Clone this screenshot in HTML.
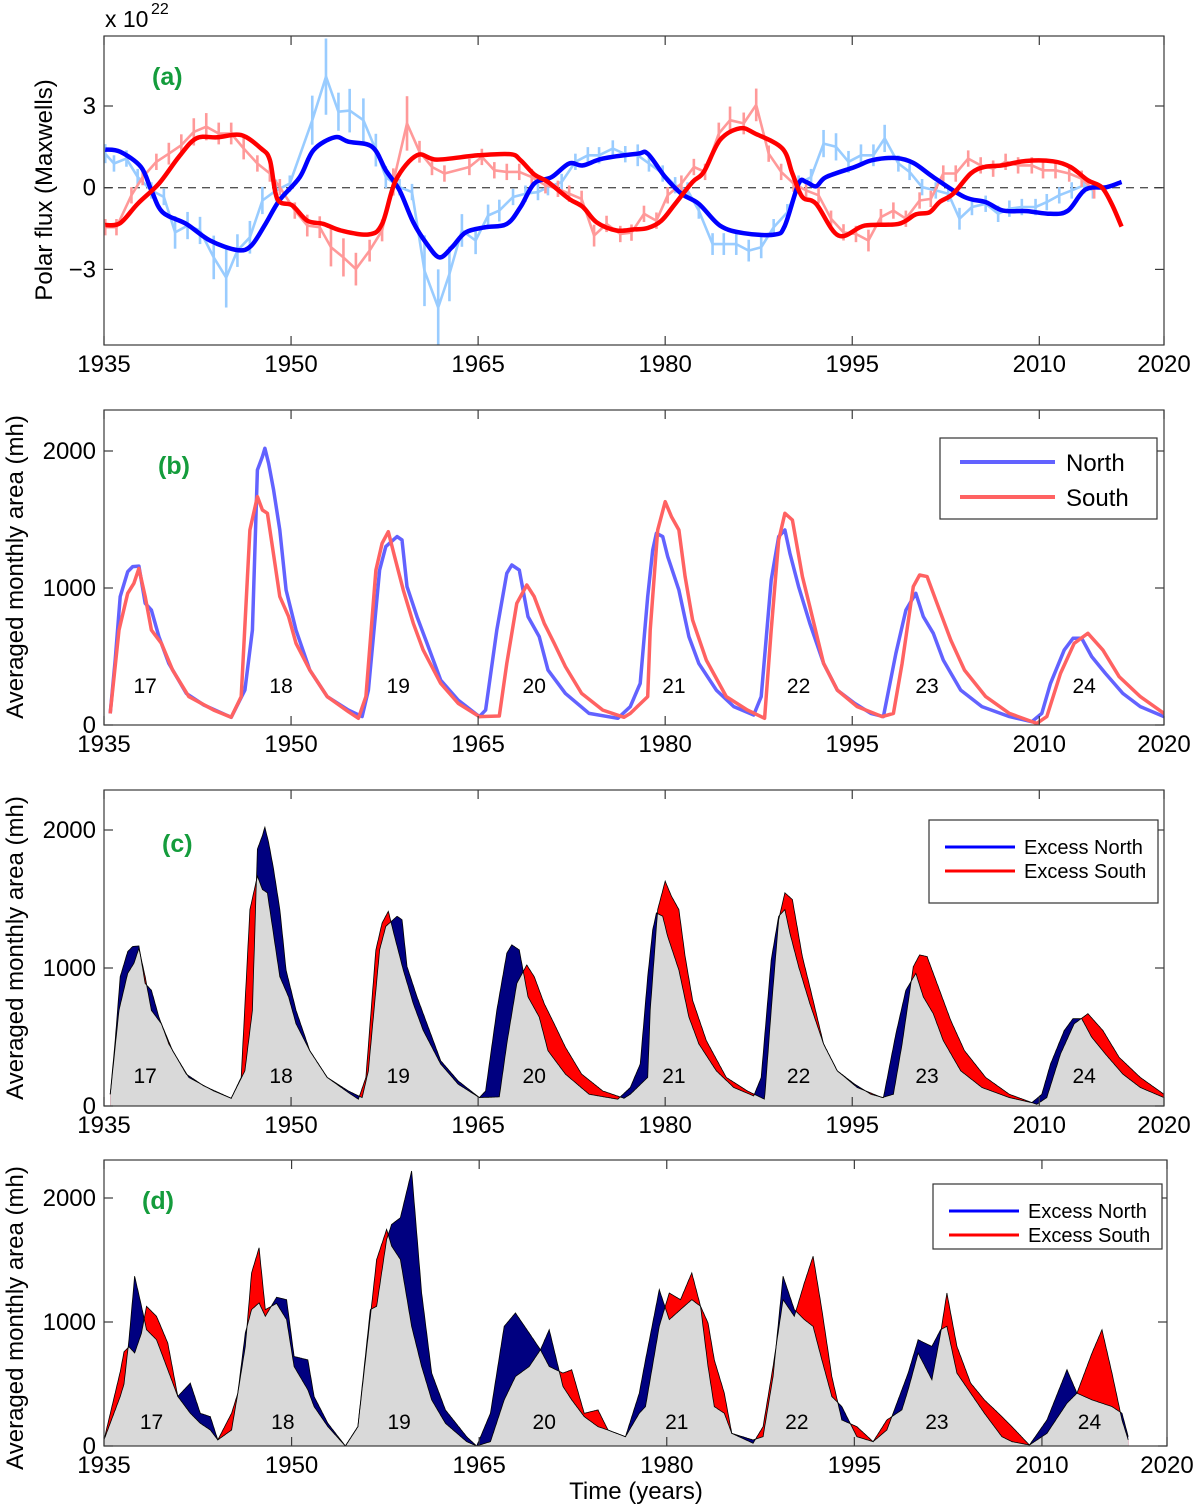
<!DOCTYPE html>
<html><head><meta charset="utf-8">
<style>
html,body{margin:0;padding:0;background:#fff;}
svg{display:block;font-family:"Liberation Sans",Arial,sans-serif;}
</style></head>
<body>
<svg id="fig" width="1200" height="1504" viewBox="0 0 1200 1504" xmlns="http://www.w3.org/2000/svg">
<defs>
<clipPath id="clipA"><rect x="104" y="36" width="1060" height="309"/></clipPath>
<clipPath id="clipB"><rect x="104" y="410" width="1060" height="315"/></clipPath>
<clipPath id="clipC"><rect x="104" y="790" width="1060" height="316"/></clipPath>
<clipPath id="clipD"><rect x="104" y="1160" width="1063" height="286"/></clipPath>
</defs>
<g id="layer"></g>
</svg>
<script>
// ---------- Panel (a) data: polar flux (x 10^22 Mx) ----------
const aBlueYears=[1935.1,1936.3,1937.97,1938.8,1939.7,1941.6,1943.5,1945.7,1946.8,1947.95,1949.06,1950.7,1951.8,1953.5,1954.6,1956.5,1957.6,1958.7,1959.8,1960.9,1961.9,1962.9,1964.0,1965.6,1967.3,1968.4,1969.5,1970.9,1972.3,1973.4,1975.0,1977.8,1978.6,1980.0,1981.3,1982.7,1984.4,1986.3,1988.8,1989.6,1990.7,1991.3,1992.1,1992.9,1995.2,1996.6,1998.5,1999.9,2001.5,2004.0,2005.7,2007.1,2009.0,2010.9,2012.3,2013.7,2015.4,2016.6];
const aBlueVals=[1.40,1.32,0.76,-0.1,-0.9,-1.33,-1.94,-2.29,-2.13,-1.33,-0.47,0.39,1.38,1.85,1.69,1.5,0.64,-0.1,-1.27,-2.07,-2.56,-2.19,-1.64,-1.45,-1.33,-0.71,0.15,0.39,0.89,0.82,1.07,1.25,1.25,0.39,-0.22,-0.59,-1.39,-1.67,-1.72,-1.39,0.15,0.21,0.05,0.39,0.76,1.01,1.09,0.91,0.39,-0.34,-0.53,-0.84,-0.86,-0.96,-0.84,-0.07,0.02,0.21];
const aRedYears=[1935.1,1936.3,1937.7,1939.4,1941.0,1942.4,1944.1,1946.0,1947.6,1948.3,1948.9,1950.1,1951.3,1952.6,1954.0,1956.2,1957.3,1958.4,1960.1,1961.7,1965.0,1967.6,1968.4,1969.5,1970.6,1972.3,1973.4,1974.5,1976.1,1977.5,1978.6,1979.7,1980.8,1982.2,1983.1,1984.4,1986.0,1987.2,1989.4,1990.2,1991.0,1992.1,1993.9,1996.0,1998.7,2000.1,2001.2,2002.0,2003.1,2004.5,2005.6,2007.0,2008.9,2011.1,2012.5,2013.9,2015.0,2015.8,2016.6];
const aRedVals=[-1.37,-1.30,-0.59,0.15,1.13,1.81,1.85,1.93,1.44,1.01,-0.41,-0.65,-1.21,-1.33,-1.57,-1.72,-1.33,0.27,1.19,1.03,1.19,1.23,1.01,0.49,0.21,-0.41,-0.71,-1.27,-1.57,-1.53,-1.48,-1.21,-0.59,0.21,0.58,1.75,2.18,1.99,1.44,0.52,-0.34,-0.59,-1.76,-1.39,-1.33,-0.98,-0.90,-0.53,-0.22,0.52,0.76,0.82,0.98,0.97,0.76,0.27,0.02,-0.59,-1.43];
const aLBYears=[1935.1,1935.8,1936.8,1937.7,1938.8,1939.8,1940.7,1941.7,1942.7,1943.8,1944.8,1945.7,1946.7,1947.7,1948.8,1949.9,1951.7,1952.8,1953.8,1954.7,1955.8,1956.8,1957.6,1958.7,1959.7,1960.7,1961.8,1962.7,1963.7,1964.8,1965.8,1966.7,1967.8,1968.8,1969.8,1970.6,1971.7,1972.8,1973.8,1974.7,1975.8,1976.8,1977.8,1978.7,1979.8,1980.8,1981.8,1982.7,1983.8,1984.7,1985.7,1986.7,1987.7,1988.7,1989.8,1990.7,1991.7,1992.7,1993.7,1994.7,1995.7,1996.7,1997.6,1998.7,1999.6,2000.6,2001.7,2002.7,2003.6,2004.6,2005.7,2006.7,2007.6,2008.6,2009.7,2010.6,2011.6,2012.6,2013.6,2014.3];
const aLBVals=[1.25,0.89,1.07,0.39,-0.1,-0.34,-1.64,-1.39,-1.57,-2.56,-3.3,-2.31,-1.82,-0.47,-0.1,0.15,2.48,4.08,2.79,2.83,2.48,1.38,0.39,0.02,-0.16,-3.05,-4.4,-3.17,-1.57,-1.94,-1.02,-0.84,-0.34,-0.22,-0.16,0.02,0.21,0.95,1.19,1.19,1.44,1.23,1.19,0.89,0.52,0.09,-0.1,-0.84,-2.07,-2.07,-2.07,-2.31,-2.19,-1.45,-0.9,0.15,0.39,1.62,1.5,0.95,1.19,1.19,1.81,0.89,0.58,0.02,-0.1,-0.22,-1.14,-0.71,-0.59,-0.96,-0.77,-0.71,-0.71,-0.53,-0.28,-0.1,0.09,-0.1];
const aLBErr=[.35,.3,.3,.3,.3,.3,.6,.5,.5,.8,1.1,.6,.6,.5,.4,.3,.9,1.4,.7,.8,.8,.6,.4,.3,.3,1.3,1.4,1.0,.6,.5,.4,.4,.3,.3,.3,.3,.3,.3,.3,.3,.3,.3,.4,.3,.3,.3,.3,.3,.4,.4,.4,.4,.4,.3,.3,.3,.3,.5,.5,.4,.4,.4,.5,.3,.3,.3,.3,.3,.4,.3,.3,.3,.3,.3,.3,.3,.3,.3,.3,.3];
const aLRYears=[1935.1,1936.0,1937.2,1938.1,1939.2,1940.2,1941.2,1942.2,1943.2,1944.2,1945.2,1946.2,1947.3,1948.3,1949.1,1950.3,1951.3,1952.3,1953.2,1954.2,1955.2,1956.3,1957.3,1958.2,1959.3,1960.3,1961.3,1962.3,1964.3,1965.3,1966.3,1967.3,1968.3,1969.3,1970.4,1971.4,1972.3,1973.3,1974.3,1975.3,1976.4,1977.3,1978.3,1979.3,1980.2,1981.3,1982.3,1983.2,1984.3,1985.2,1986.3,1987.3,1988.3,1989.3,1990.3,1991.3,1992.3,1993.3,1994.3,1995.3,1996.3,1997.3,1998.3,1999.3,2000.4,2001.3,2002.3,2003.3,2004.3,2005.3,2006.3,2007.3,2008.3,2009.4,2010.3,2011.3,2012.4,2013.4,2014.4];
const aLRVals=[-1.45,-1.45,-0.28,0.39,0.95,1.25,1.56,2.05,2.24,1.99,1.99,1.44,0.89,0.52,0.02,-0.84,-1.39,-1.45,-2.19,-2.56,-2.99,-2.31,-1.57,0.21,2.36,1.32,0.76,0.52,0.76,1.13,0.64,0.58,0.58,0.39,0.09,-0.04,-0.22,-0.41,-1.76,-1.33,-1.7,-1.65,-0.96,-1.21,-0.28,0.15,0.76,0.58,1.99,2.48,2.36,3.04,1.25,0.58,0.15,-0.1,-0.28,-1.14,-1.64,-1.7,-1.94,-1.08,-0.84,-1.14,-0.47,-0.41,0.52,0.52,1.07,0.82,0.7,0.95,0.82,0.82,0.64,0.64,0.52,0.33,-0.1];
const aLRErr=[.3,.3,.3,.3,.3,.4,.4,.5,.5,.4,.4,.4,.3,.3,.3,.3,.4,.4,.7,.7,.6,.4,.4,.5,1.0,.4,.3,.3,.3,.3,.3,.3,.3,.3,.3,.3,.3,.3,.4,.3,.3,.3,.3,.3,.3,.3,.3,.3,.4,.5,.4,.6,.3,.3,.3,.3,.3,.3,.3,.3,.4,.3,.3,.3,.3,.3,.3,.3,.3,.3,.3,.3,.3,.3,.3,.3,.3,.3,.3];
const aYTicks=[-3,0,3];
const xTickYears=[1935,1950,1965,1980,1995,2010,2020];

// ---------- Panels (b)/(c) data: monthly area (mh) ----------
const bNorthYears=[1935.5,1935.9,1936.3,1936.9,1937.3,1937.8,1938.3,1938.8,1939.4,1940.2,1941.6,1943.0,1945.2,1946.3,1946.9,1947.3,1947.7,1947.9,1948.2,1948.6,1949.1,1949.6,1950.4,1951.5,1952.9,1954.6,1955.7,1956.2,1957.1,1957.6,1958.5,1958.9,1959.3,1960.1,1960.9,1962.0,1963.4,1965.1,1965.6,1966.5,1967.3,1967.7,1968.3,1969.0,1969.9,1970.6,1972.0,1973.9,1976.2,1977.2,1978.0,1978.6,1979.0,1979.3,1979.8,1980.2,1981.1,1981.9,1982.7,1984.1,1985.5,1987.1,1987.7,1988.5,1989.1,1989.6,1990.0,1990.7,1991.6,1992.7,1993.8,1995.2,1996.5,1997.5,1998.5,1999.3,2000.1,2000.7,2001.5,2002.3,2003.7,2005.4,2007.6,2009.4,2010.2,2010.9,2012.0,2012.7,2013.4,2014.2,2015.3,2016.7,2018.1,2020.0];
const bNorthVals=[85,475,937,1119,1156,1160,888,839,645,450,231,146,56,255,693,1861,1959,2020,1910,1715,1423,985,693,401,207,109,61,255,1131,1302,1375,1350,1010,791,596,328,182,61,109,693,1107,1168,1131,791,645,401,231,85,49,134,304,937,1277,1399,1375,1229,985,645,450,255,134,73,207,1058,1375,1423,1253,1010,742,450,255,158,85,61,523,839,961,791,669,474,255,134,61,24,85,304,547,633,633,499,377,231,134,61];
const bSouthYears=[1935.5,1936.2,1936.9,1937.4,1937.8,1938.3,1938.8,1939.6,1940.5,1941.8,1943.8,1945.2,1946.0,1946.7,1947.3,1947.7,1948.1,1948.5,1949.1,1949.8,1950.4,1951.5,1952.9,1954.6,1955.4,1956.0,1956.8,1957.3,1957.8,1958.3,1959.0,1959.8,1960.6,1962.0,1963.4,1965.1,1966.7,1967.3,1968.1,1968.9,1969.5,1970.3,1971.1,1972.0,1973.3,1975.0,1976.7,1977.2,1978.6,1978.8,1979.4,1980.0,1980.5,1981.1,1981.6,1982.2,1983.3,1984.9,1986.6,1987.97,1988.5,1989.1,1989.6,1990.2,1991.0,1991.6,1992.7,1993.8,1995.4,1997.4,1998.3,1999.0,1999.9,2000.4,2001.0,2001.8,2002.9,2004.0,2005.7,2007.6,2009.8,2010.6,2011.7,2012.8,2013.9,2015.1,2016.4,2018.1,2020.0];
const bSouthVals=[85,693,961,1034,1143,937,693,596,401,207,109,56,207,1423,1667,1569,1545,1302,937,791,596,401,207,97,49,207,1131,1326,1411,1229,985,742,547,304,158,61,66,450,888,1022,937,742,596,426,231,109,56,85,207,693,1423,1630,1521,1423,1083,766,474,207,109,49,693,1350,1545,1496,1083,864,450,255,134,61,85,450,1010,1095,1083,888,620,401,207,85,12,61,377,596,669,547,353,207,85];
const bYTicks=[0,1000,2000];
const bCycleLabels=["17","18","19","20","21","22","23","24"];
const bCycleYears=[1938.3,1949.2,1958.6,1969.5,1980.7,1990.7,2001.0,2013.6];

// ---------- Panel (d) data ----------
const dNorthYears=[1935.0,1936.3,1936.6,1937.0,1937.45,1938.0,1938.4,1939.2,1940.1,1940.9,1941.9,1942.7,1943.5,1944.1,1945.2,1945.7,1946.3,1946.8,1947.4,1947.9,1948.8,1949.6,1950.2,1951.3,1951.8,1952.9,1954.3,1955.3,1956.3,1956.8,1957.6,1958.0,1958.7,1959.6,1960.4,1961.2,1962.3,1964.0,1964.8,1965.9,1967.0,1967.9,1969.0,1969.9,1970.6,1971.7,1972.4,1973.4,1974.5,1975.3,1976.7,1977.8,1978.3,1979.4,1980.2,1981.1,1982.0,1982.7,1983.3,1983.8,1984.6,1985.2,1986.9,1987.7,1988.5,1989.3,1990.2,1991.0,1991.7,1992.4,1993.2,1994.0,1995.2,1996.5,1997.6,1998.8,1999.3,2000.1,2001.2,2001.9,2002.4,2003.2,2004.3,2005.4,2006.8,2007.6,2009.0,2010.4,2012.0,2012.8,2014.0,2014.8,2015.6,2016.4,2016.9];
const dNorthVals=[50,400,500,860,1369,1127,938,857,615,400,507,264,237,49,129,426,911,1100,1154,1046,1200,1180,722,695,399,183,0,156,1100,1127,1666,1787,1841,2218,1234,588,291,75,0,264,965,1073,911,776,938,480,372,237,156,129,75,426,695,1261,1019,1100,1180,1127,641,318,264,102,49,75,560,1369,1100,1019,965,695,399,318,75,35,129,453,588,857,803,938,965,588,426,264,75,35,8,210,615,426,372,345,318,264,75];
const dSouthYears=[1935.0,1936.3,1936.6,1937.0,1937.45,1938.0,1938.4,1939.2,1940.1,1940.9,1941.9,1942.7,1943.5,1944.1,1945.2,1945.7,1946.3,1946.8,1947.4,1947.9,1948.8,1949.6,1950.2,1951.3,1951.8,1952.9,1954.3,1955.3,1956.3,1956.8,1957.6,1958.0,1958.7,1959.6,1960.4,1961.2,1962.3,1964.0,1964.8,1965.9,1967.0,1967.9,1969.0,1969.9,1970.6,1971.7,1972.4,1973.4,1974.5,1975.3,1976.7,1977.8,1978.3,1979.4,1980.2,1981.1,1982.0,1982.7,1983.3,1983.8,1984.6,1985.2,1986.9,1987.7,1988.5,1989.3,1990.2,1991.0,1991.7,1992.4,1993.2,1994.0,1995.2,1996.5,1997.6,1998.8,1999.3,2000.1,2001.2,2001.9,2002.4,2003.2,2004.3,2005.4,2006.8,2007.6,2009.0,2010.4,2012.0,2012.8,2014.0,2014.8,2015.6,2016.4,2016.9];
const dSouthVals=[50,600,760,800,750,911,1127,1046,830,400,264,183,129,49,264,426,803,1396,1598,1100,1150,1019,641,453,318,156,0,156,1046,1504,1747,1612,1504,965,641,372,183,35,0,35,372,560,641,776,641,588,615,264,291,129,75,264,318,965,1234,1180,1396,1127,992,695,426,102,22,156,641,1180,1046,1315,1531,1100,560,210,156,35,210,291,453,749,534,911,1234,803,507,372,237,156,8,102,345,426,749,938,588,210,49];
const dCycleYears=[1938.8,1949.3,1958.6,1970.2,1980.8,1990.4,2001.6,2013.8];

const NS="http://www.w3.org/2000/svg";
const layer=document.getElementById('layer');
function el(tag,attrs,parent){const e=document.createElementNS(NS,tag);for(const k in attrs)e.setAttribute(k,attrs[k]);(parent||layer).appendChild(e);return e;}
function txt(s,attrs,parent){const t=el('text',attrs,parent);t.textContent=s;return t;}
function mkX(x0,x1){return y=>x0+(y-1935)/(2020-1935)*(x1-x0);}
function mkY(v0,py0,v1,py1){return v=>py0+(v-v0)/(v1-v0)*(py1-py0);}
function pairs(xs,vs){const n=Math.min(xs.length,vs.length);const r=[];for(let i=0;i<n;i++)r.push([xs[i],vs[i]]);return r;}
function linePath(pts){return pts.map((p,i)=>(i?'L':'M')+p[0].toFixed(1)+','+p[1].toFixed(1)).join('');}
function smoothPath(pts){
  let d='M'+pts[0][0].toFixed(1)+','+pts[0][1].toFixed(1);
  for(let i=0;i<pts.length-1;i++){
    const p0=pts[Math.max(0,i-1)],p1=pts[i],p2=pts[i+1],p3=pts[Math.min(pts.length-1,i+2)];
    const c1=[p1[0]+(p2[0]-p0[0])/6,p1[1]+(p2[1]-p0[1])/6];
    const c2=[p2[0]-(p3[0]-p1[0])/6,p2[1]-(p3[1]-p1[1])/6];
    d+='C'+c1[0].toFixed(1)+','+c1[1].toFixed(1)+' '+c2[0].toFixed(1)+','+c2[1].toFixed(1)+' '+p2[0].toFixed(1)+','+p2[1].toFixed(1);
  }
  return d;
}
function interp(xs,vs,t){const n=Math.min(xs.length,vs.length);
  if(t<=xs[0])return vs[0]; if(t>=xs[n-1])return vs[n-1];
  for(let i=0;i<n-1;i++){if(t>=xs[i]&&t<=xs[i+1]){const f=(t-xs[i])/(xs[i+1]-xs[i]||1);return vs[i]+f*(vs[i+1]-vs[i]);}}
  return vs[n-1];}

function axesBox(name,x0,y0,x1,y1,X,Y,yTicks,yLabelFn,ticksYears){
  const g=el('g',{});
  
  
  el('rect',{x:x0,y:y0,width:x1-x0,height:y1-y0,fill:'none',stroke:'#3a3a3a','stroke-width':1.2},g);
  ticksYears.forEach(yr=>{const x=X(yr);
    el('line',{x1:x,y1:y1,x2:x,y2:y1-9,stroke:'#3a3a3a','stroke-width':1.2},g);
    el('line',{x1:x,y1:y0,x2:x,y2:y0+9,stroke:'#3a3a3a','stroke-width':1.2},g);
    const t=txt(String(yr),{x:x,y:y1+27,'font-size':24,'text-anchor':'middle',fill:'#000'},g);
    
    
  });
  yTicks.forEach(v=>{const y=Y(v);
    el('line',{x1:x0,y1:y,x2:x0+9,y2:y,stroke:'#3a3a3a','stroke-width':1.2},g);
    el('line',{x1:x1,y1:y,x2:x1-9,y2:y,stroke:'#3a3a3a','stroke-width':1.2},g);
    const t=txt(yLabelFn(v),{x:x0-8,y:y+8,'font-size':24,'text-anchor':'end',fill:'#000'},g);
    
    
  });
  return g;
}
function panelLabel(s,x,y,name){const t=txt(s,{x:x,y:y,'font-size':25,'font-weight':'bold',fill:'#149c3c'});
  
  }
function yTitle(s,x,y,name){const t=txt(s,{x:0,y:0,'font-size':24,'text-anchor':'middle',transform:`translate(${x},${y}) rotate(-90)`});
  
  }

// ===== Panel (a) =====
(function(){
  const X=mkX(104,1164), Y=mkY(0,187.7,3,106);
  const g=el('g',{'clip-path':'url(#clipA)'});
  
  
  const zl=el('line',{x1:104,x2:1164,y1:Y(0),y2:Y(0),stroke:'#555','stroke-width':1.3,'stroke-dasharray':'8,6'},g);
  
  
  function errSeries(xs,vs,es,col,name){
    const pts=pairs(xs,vs).map(p=>[X(p[0]),Y(p[1])]);
    const p=el('path',{d:linePath(pts),fill:'none',stroke:col,'stroke-width':2.6,'stroke-linejoin':'round'},g);
    
    
    const n=Math.min(xs.length,vs.length,es.length);
    for(let i=0;i<n;i++){const x=X(xs[i]);
      const b=el('line',{x1:x,x2:x,y1:Y(vs[i]-es[i]),y2:Y(vs[i]+es[i]),stroke:col,'stroke-width':2.6},g);
      
      }
  }
  errSeries(aLBYears,aLBVals,aLBErr,'#99ccff','north-flux-raw');
  errSeries(aLRYears,aLRVals,aLRErr,'#ff9999','south-flux-raw');
  const bp=el('path',{d:smoothPath(pairs(aBlueYears,aBlueVals).map(p=>[X(p[0]),Y(p[1])])),fill:'none',stroke:'#0000ff','stroke-width':4.5,'stroke-linejoin':'round'},g);
  
  
  const rp=el('path',{d:smoothPath(pairs(aRedYears,aRedVals).map(p=>[X(p[0]),Y(p[1])])),fill:'none',stroke:'#ff0000','stroke-width':4.5,'stroke-linejoin':'round'},g);
  
  
  axesBox('panel-a',104,36,1164,345,X,Y,aYTicks,v=>v<0?'\u2212'+Math.abs(v):String(v),xTickYears);
  const ex=txt('x 10',{x:105,y:27,'font-size':23});
  
  
  txt('22',{x:151,y:14,'font-size':16});
  panelLabel('(a)',152,85,'panel-a-label');
  yTitle('Polar flux (Maxwells)',52,190,'panel-a-y-title');
})();

// ===== Panel (b) =====
(function(){
  const X=mkX(104,1164), Y=mkY(0,725,1000,588);
  const g=el('g',{'clip-path':'url(#clipB)'});
  
  
  const n=el('path',{d:linePath(pairs(bNorthYears,bNorthVals).map(p=>[X(p[0]),Y(p[1])])),fill:'none',stroke:'#6262ff','stroke-width':3.5,'stroke-linejoin':'round'},g);
  
  
  const s=el('path',{d:linePath(pairs(bSouthYears,bSouthVals).map(p=>[X(p[0]),Y(p[1])])),fill:'none',stroke:'#ff6262','stroke-width':3.5,'stroke-linejoin':'round'},g);
  
  
  bCycleLabels.forEach((c,i)=>{const t=txt(c,{x:X(bCycleYears[i]),y:693,'font-size':21,'text-anchor':'middle'});
    
    });
  axesBox('panel-b',104,410,1164,725,X,Y,bYTicks,v=>String(v),xTickYears);
  const lg=el('g',{});
  
  
  el('rect',{x:940,y:438,width:217,height:81,fill:'#fff',stroke:'#333','stroke-width':1.2},lg);
  el('line',{x1:960,x2:1055,y1:462,y2:462,stroke:'#6262ff','stroke-width':4},lg);
  el('line',{x1:960,x2:1055,y1:497,y2:497,stroke:'#ff6262','stroke-width':4},lg);
  const t1=txt('North',{x:1066,y:471,'font-size':24},lg);
  
  
  const t2=txt('South',{x:1066,y:506,'font-size':24},lg);
  
  
  panelLabel('(b)',158,474,'panel-b-label');
  yTitle('Averaged monthly area (mh)',23,567,'panel-b-y-title');
})();

// ===== excess plot helper =====
function excess(nx,nv,sx,sv,X,Y,g,y0){
  const t0=Math.min(nx[0],sx[0]), t1=Math.max(nx[Math.min(nx.length,nv.length)-1],sx[Math.min(sx.length,sv.length)-1]);
  const N=[],S=[],M=[];
  for(let t=t0;t<=t1+1e-9;t+=0.05){const a=interp(nx,nv,t),b=interp(sx,sv,t);
    N.push([X(t),Y(a)]);S.push([X(t),Y(b)]);M.push([X(t),Y(Math.min(a,b))]);}
  const close=pts=>linePath(pts)+'L'+pts[pts.length-1][0].toFixed(1)+','+y0+'L'+pts[0][0].toFixed(1)+','+y0+'Z';
  const a=el('path',{d:close(N),fill:'#000080',stroke:'none'},g);
  
  
  const b=el('path',{d:close(S),fill:'#ff0000',stroke:'none'},g);
  
  
  const c=el('path',{d:close(M),fill:'#d9d9d9',stroke:'none'},g);
  
  
  el('path',{d:linePath(N),fill:'none',stroke:'#000','stroke-width':0.8},g);
  el('path',{d:linePath(S),fill:'none',stroke:'#000','stroke-width':0.8},g);
}
function excessLegend(x,y,w,h,fs,name){
  const lg=el('g',{});
  
  
  el('rect',{x:x,y:y,width:w,height:h,fill:'#fff',stroke:'#333','stroke-width':1.2},lg);
  el('line',{x1:x+16,x2:x+86,y1:y+27,y2:y+27,stroke:'#0000ff','stroke-width':3},lg);
  el('line',{x1:x+16,x2:x+86,y1:y+51,y2:y+51,stroke:'#ff0000','stroke-width':3},lg);
  const t1=txt('Excess North',{x:x+95,y:y+34,'font-size':fs},lg);
  
  
  const t2=txt('Excess South',{x:x+95,y:y+58,'font-size':fs},lg);
  
  
}

// ===== Panel (c) =====
(function(){
  const X=mkX(104,1164), Y=mkY(0,1106,1000,968);
  const g=el('g',{'clip-path':'url(#clipC)'});
  
  
  excess(bNorthYears,bNorthVals,bSouthYears,bSouthVals,X,Y,g,1106);
  bCycleLabels.forEach((c,i)=>{const t=txt(c,{x:X(bCycleYears[i]),y:1083,'font-size':21,'text-anchor':'middle'});
    
    });
  axesBox('panel-c',104,790,1164,1106,X,Y,bYTicks,v=>String(v),xTickYears);
  excessLegend(929,820,229,83,20,'legend');
  panelLabel('(c)',162,852,'panel-c-label');
  yTitle('Averaged monthly area (mh)',23,948,'panel-c-y-title');
})();

// ===== Panel (d) =====
(function(){
  const X=mkX(104,1167), Y=mkY(0,1446,1000,1322);
  const g=el('g',{'clip-path':'url(#clipD)'});
  
  
  excess(dNorthYears,dNorthVals,dSouthYears,dSouthVals,X,Y,g,1446);
  bCycleLabels.forEach((c,i)=>{const t=txt(c,{x:X(dCycleYears[i]),y:1429,'font-size':21,'text-anchor':'middle'});
    
    });
  axesBox('panel-d',104,1160,1167,1446,X,Y,bYTicks,v=>String(v),xTickYears);
  excessLegend(933,1184,229,65,20,'legend');
  panelLabel('(d)',142,1209,'panel-d-label');
  yTitle('Averaged monthly area (mh)',23,1318,'panel-d-y-title');
  const xt=txt('Time (years)',{x:636,y:1499,'font-size':24,'text-anchor':'middle'});
  
  
})();
</script>
</body></html>
